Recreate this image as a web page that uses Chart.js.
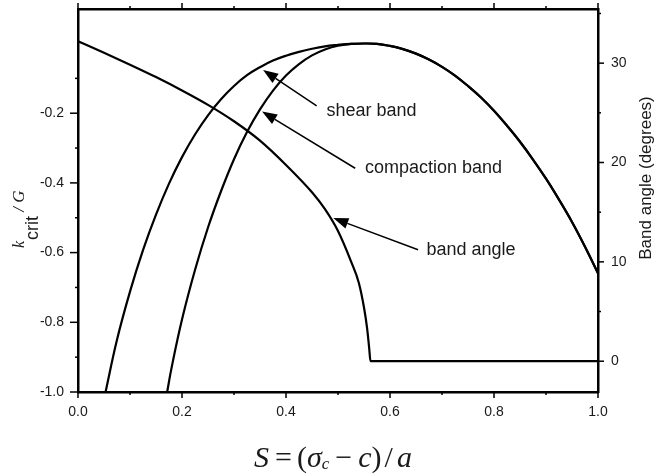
<!DOCTYPE html>
<html>
<head>
<meta charset="utf-8">
<script src="https://cdn.jsdelivr.net/npm/chart.js@4.4.1/dist/chart.umd.min.js"></script>
<style>
  html, body { margin: 0; padding: 0; background: #fff; }
  #wrap { width: 666px; height: 476px; }
</style>
</head>
<body>
<div id="wrap"><canvas id="bandChart" width="666" height="476"></canvas></div>
<script>
// S = (sigma_c - c) / a on the horizontal axis
var shearS = [0.053, 0.075, 0.1, 0.125, 0.15, 0.175, 0.2, 0.225, 0.25, 0.275, 0.3, 0.325, 0.35, 0.375, 0.4, 0.425, 0.45, 0.475, 0.5, 0.525,
  0.55, 0.575, 0.6, 0.625, 0.65, 0.675, 0.7, 0.725, 0.75, 0.775, 0.8, 0.825, 0.85, 0.875, 0.9, 0.925, 0.95, 0.975, 1.0];
var shearK = [-1.0, -0.85, -0.712, -0.593, -0.491, -0.402, -0.326, -0.261, -0.206, -0.16, -0.122, -0.091, -0.068, -0.049, -0.035, -0.024, -0.015, -0.008, -0.004, -0.001,
  0, -0.001, -0.007, -0.016, -0.029, -0.046, -0.067, -0.092, -0.122, -0.155, -0.193, -0.236, -0.282, -0.333, -0.388, -0.448, -0.512, -0.583, -0.659];

var compactionS = [0.1715, 0.18, 0.2, 0.225, 0.25, 0.275, 0.3, 0.325, 0.35, 0.375, 0.4, 0.425, 0.45, 0.475, 0.5, 0.525,
  0.55, 0.575, 0.6, 0.625, 0.65, 0.675, 0.7, 0.725, 0.75, 0.775, 0.8, 0.825, 0.85, 0.875, 0.9, 0.925, 0.95, 0.975, 1.0];
var compactionK = [-1.0, -0.93, -0.792, -0.65, -0.528, -0.424, -0.332, -0.254, -0.189, -0.135, -0.092, -0.059, -0.034, -0.017, -0.006, -0.0013,
  0, -0.001, -0.007, -0.016, -0.029, -0.046, -0.067, -0.092, -0.122, -0.155, -0.193, -0.236, -0.282, -0.333, -0.388, -0.448, -0.512, -0.583, -0.659];

var angleS = [0, 0.05, 0.1, 0.15, 0.2, 0.25, 0.3, 0.35, 0.4, 0.45, 0.475, 0.5, 0.525, 0.54, 0.55, 0.556, 0.56, 0.5625, 1.0];
var angleDeg = [32.2, 31.05, 29.85, 28.6, 27.25, 25.8, 24.15, 22.2, 19.75, 17.0, 15.3, 13.1, 10.05, 7.9, 5.4, 3.3, 1.3, 0, 0];

// tick values for each axis
var sTicks = [0, 0.1, 0.2, 0.3, 0.4, 0.5, 0.6, 0.7, 0.8, 0.9, 1.0];
var kTicks = [-1.0, -0.9, -0.8, -0.7, -0.6, -0.5, -0.4, -0.3, -0.2, -0.1];
var angleTicks = [0, 5, 10, 15, 20, 25, 30, 35];

// arrow labels: tip / tail / text anchor in (S, k) units
var noteLabels = ['shear band', 'compaction band', 'band angle'];
var noteTipS = [0.356, 0.354, 0.491];
var noteTipK = [-0.076, -0.195, -0.501];
var noteTailS = [0.459, 0.533, 0.654];
var noteTailK = [-0.179, -0.358, -0.592];
var noteTextS = [0.478, 0.552, 0.670];
var noteTextK = [-0.195, -0.358, -0.592];

function pairs(xs, ys) {
  return xs.map(function (x, i) { return { x: x, y: ys[i] }; });
}

function evenTenth(v) { return Math.round(v * 10) % 2 === 0; }
function tenDeg(v) { return Math.round(v) % 10 === 0; }

function fixTicks(list) {
  return function (scale) {
    scale.ticks = list.map(function (v) { return { value: v }; });
  };
}

// fixed box size, no extra room for half-height labels at the ends
function fixBox(w, h) {
  return function (s) {
    if (w !== null) s.width = w;
    if (h !== null) s.height = h;
    s.paddingTop = s.paddingBottom = s.paddingLeft = s.paddingRight = 0;
  };
}

var tickFont = { family: '"Liberation Sans", Arial, sans-serif', size: 14 };
var ink = '#1a1a1a';

function drawArrow(ctx, x0, y0, x1, y1) {
  var ang = Math.atan2(y1 - y0, x1 - x0);
  var len = 15, half = 5.5;
  var bx = x1 - len * Math.cos(ang), by = y1 - len * Math.sin(ang);
  ctx.beginPath();
  ctx.moveTo(x0, y0);
  ctx.lineTo(bx, by);
  ctx.lineWidth = 1.5;
  ctx.stroke();
  ctx.beginPath();
  ctx.moveTo(x1, y1);
  ctx.lineTo(bx + half * Math.sin(ang), by - half * Math.cos(ang));
  ctx.lineTo(bx - half * Math.sin(ang), by + half * Math.cos(ang));
  ctx.closePath();
  ctx.fill();
}

var decor = {
  id: 'decor',
  afterDraw: function (chart) {
    var ctx = chart.ctx, a = chart.chartArea;
    var sx = chart.scales.x, sy = chart.scales.y, sr = chart.scales.y2;
    ctx.save();
    ctx.strokeStyle = '#000';
    ctx.fillStyle = '#000';
    ctx.lineWidth = 1.5;

    // outward tick marks on all four sides
    sTicks.forEach(function (v) {
      var p = sx.getPixelForValue(v);
      var l = evenTenth(v) ? 6 : 3;
      ctx.beginPath();
      ctx.moveTo(p, a.bottom); ctx.lineTo(p, a.bottom + l);
      ctx.moveTo(p, a.top); ctx.lineTo(p, a.top - l);
      ctx.stroke();
    });
    kTicks.forEach(function (v) {
      var p = sy.getPixelForValue(v);
      var l = evenTenth(v) ? 8 : 3;
      ctx.beginPath();
      ctx.moveTo(a.left, p); ctx.lineTo(a.left - l, p);
      ctx.stroke();
    });
    angleTicks.forEach(function (v) {
      var p = sr.getPixelForValue(v);
      var l = tenDeg(v) ? 6 : 3;
      ctx.beginPath();
      ctx.moveTo(a.right, p); ctx.lineTo(a.right + l, p);
      ctx.stroke();
    });

    // arrows and their labels
    ctx.font = '18px "Liberation Sans", Arial, sans-serif';
    ctx.textBaseline = 'middle';
    ctx.textAlign = 'left';
    noteLabels.forEach(function (txt, i) {
      drawArrow(ctx,
        sx.getPixelForValue(noteTailS[i]), sy.getPixelForValue(noteTailK[i]),
        sx.getPixelForValue(noteTipS[i]), sy.getPixelForValue(noteTipK[i]));
      ctx.fillStyle = ink;
      ctx.fillText(txt, sx.getPixelForValue(noteTextS[i]), sy.getPixelForValue(noteTextK[i]));
      ctx.fillStyle = '#000';
    });

    // left axis title: k_crit / G
    ctx.fillStyle = ink;
    ctx.save();
    ctx.translate(0, 248);
    ctx.rotate(-Math.PI / 2);
    ctx.textBaseline = 'alphabetic';
    ctx.font = 'italic 16px "Liberation Serif", "Times New Roman", serif';
    ctx.fillText('k', 0, 24);
    var w = ctx.measureText('k').width + 1;
    ctx.font = '18px "Liberation Sans", Arial, sans-serif';
    ctx.fillText('crit', w, 38);
    w += ctx.measureText('crit').width;
    ctx.font = 'italic 17px "Liberation Serif", "Times New Roman", serif';
    ctx.fillText(' / G', w, 24);
    ctx.restore();

    // right axis title
    ctx.save();
    ctx.translate(651, 178);
    ctx.rotate(-Math.PI / 2);
    ctx.textAlign = 'center';
    ctx.textBaseline = 'alphabetic';
    ctx.font = '17px "Liberation Sans", Arial, sans-serif';
    ctx.fillText('Band angle (degrees)', 0, 0);
    ctx.restore();

    // bottom axis title: S = (sigma_c - c) / a
    var serif = '"Liberation Serif", "Times New Roman", serif';
    var parts = [
      ['S', 'italic 30px ' + serif, 0, 6],
      ['=', '30px ' + serif, 0, 5],
      ['(', '30px ' + serif, 0, 0],
      ['\u03c3', 'italic 30px ' + serif, 0, 0],
      ['c', 'italic 17px ' + serif, 6, 6],
      ['\u2212', '30px ' + serif, 0, 6],
      ['c', 'italic 30px ' + serif, 0, 0],
      [')', '30px ' + serif, 0, 3],
      ['/', '30px ' + serif, 0, 4],
      ['a', 'italic 30px ' + serif, 0, 0]
    ];
    var total = 0;
    parts.forEach(function (p) { ctx.font = p[1]; total += ctx.measureText(p[0]).width + p[3]; });
    var x = 333 - total / 2, base = 459;
    ctx.textAlign = 'left';
    parts.forEach(function (p) {
      ctx.font = p[1];
      ctx.fillText(p[0], x, base + p[2]);
      x += ctx.measureText(p[0]).width + p[3];
    });

    ctx.restore();
  }
};

var lineStyle = {
  showLine: true,
  borderColor: '#000',
  borderWidth: 2.2,
  pointRadius: 0,
  fill: false,
  tension: 0.4
};

var chart = new Chart(document.getElementById('bandChart').getContext('2d'), {
  type: 'scatter',
  data: {
    datasets: [
      Object.assign({ label: 'shear band', data: pairs(shearS, shearK), yAxisID: 'y' }, lineStyle),
      Object.assign({ label: 'compaction band', data: pairs(compactionS, compactionK), yAxisID: 'y' }, lineStyle),
      Object.assign({ label: 'band angle', data: pairs(angleS, angleDeg), yAxisID: 'y2' }, lineStyle,
        { cubicInterpolationMode: 'monotone' })
    ]
  },
  options: {
    responsive: false,
    animation: false,
    devicePixelRatio: 1,
    events: [],
    layout: { padding: 0 },
    plugins: { legend: { display: false }, tooltip: { enabled: false } },
    scales: {
      x: {
        type: 'linear', position: 'bottom', min: 0, max: 1,
        afterBuildTicks: fixTicks(sTicks),
        afterFit: fixBox(null, 84),
        grid: { display: false, drawTicks: false },
        border: { display: true, color: '#000', width: 2.5 },
        ticks: {
          autoSkip: false, maxRotation: 0, padding: 12, color: ink, font: tickFont,
          callback: function (v) { return evenTenth(v) ? v.toFixed(1) : ''; }
        }
      },
      x2: {
        type: 'linear', axis: 'x', position: 'top', min: 0, max: 1,
        afterBuildTicks: fixTicks(sTicks),
        afterFit: fixBox(null, 9),
        grid: { display: false, drawTicks: false },
        border: { display: true, color: '#000', width: 2.5 },
        ticks: { display: false }
      },
      y: {
        type: 'linear', position: 'left', min: -1.0, max: 0.099,
        afterBuildTicks: fixTicks(kTicks),
        afterFit: fixBox(78, null),
        grid: { display: false, drawTicks: false },
        border: { display: true, color: '#000', width: 2.5 },
        ticks: {
          autoSkip: false, padding: 14, color: ink, font: tickFont,
          callback: function (v) { return evenTenth(v) ? v.toFixed(1) : ''; }
        }
      },
      y2: {
        type: 'linear', position: 'right', min: -3.1, max: 35.45,
        afterBuildTicks: fixTicks(angleTicks),
        afterFit: fixBox(68, null),
        grid: { display: false, drawTicks: false },
        border: { display: true, color: '#000', width: 2.5 },
        ticks: {
          autoSkip: false, padding: 13, color: ink, font: tickFont,
          callback: function (v) { return tenDeg(v) ? String(v) : ''; }
        }
      }
    }
  },
  plugins: [decor]
});
</script>
</body>
</html>
